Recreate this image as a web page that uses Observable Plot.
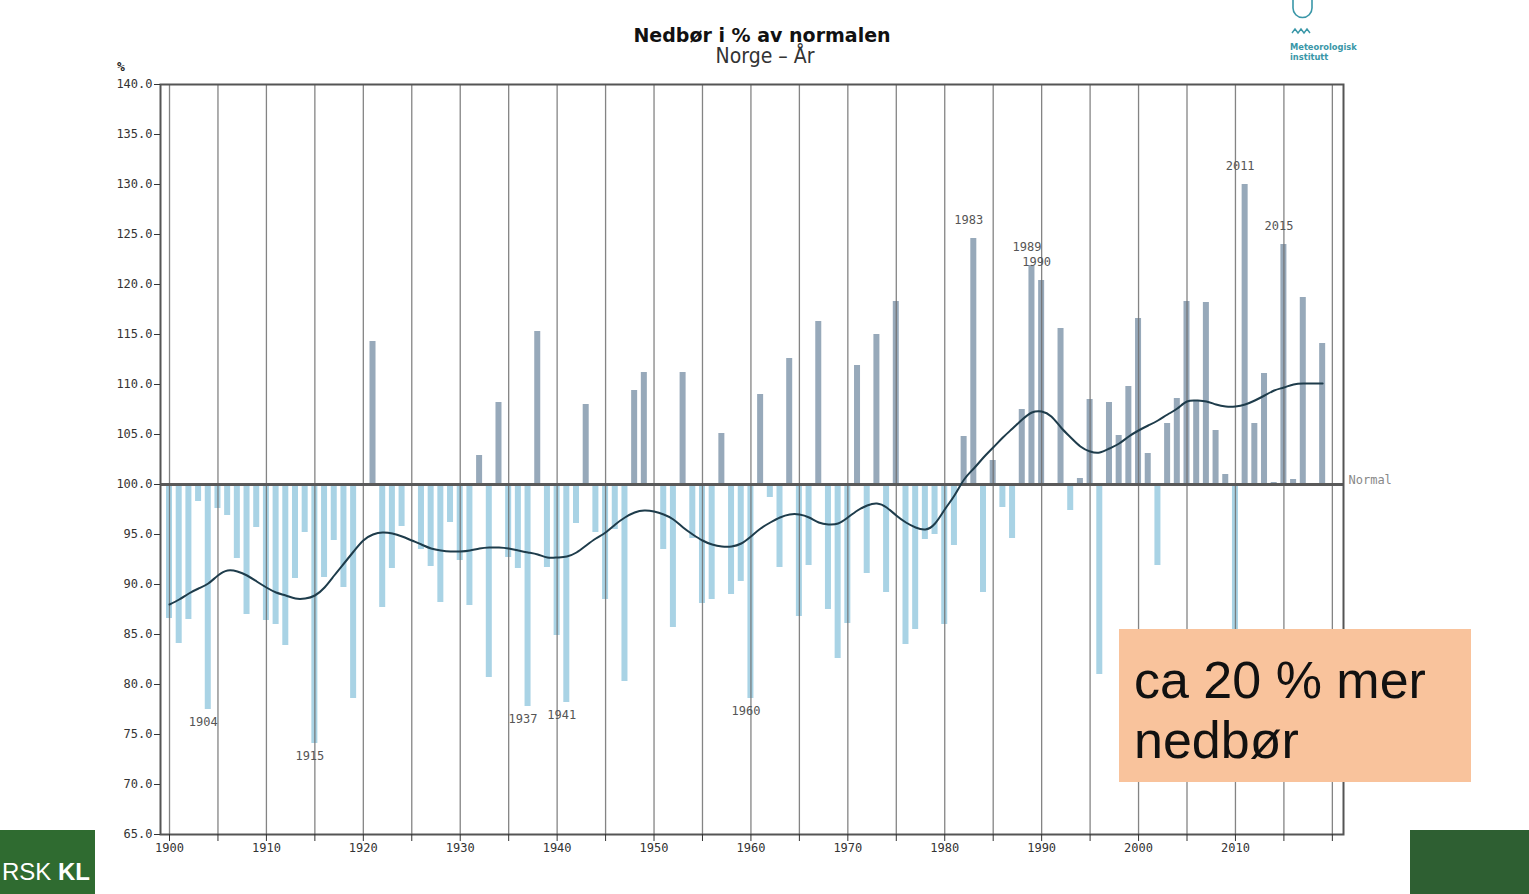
<!DOCTYPE html>
<html>
<head>
<meta charset="utf-8">
<script src="https://cdn.jsdelivr.net/npm/d3@7"></script>
<script src="https://cdn.jsdelivr.net/npm/@observablehq/plot@0.6"></script>
<style>
  html, body { margin: 0; padding: 0; background: #fff; }
  body { width: 1529px; height: 894px; overflow: hidden; position: relative; font-family: "DejaVu Sans", sans-serif; }
  #chart { position: absolute; left: 0; top: 0; }
  #title { position: absolute; left: 562px; top: 25px; width: 400px; text-align: center; font: bold 19px/20px "DejaVu Sans", sans-serif; color: #111; z-index: 2; }
  #subtitle { position: absolute; left: 565px; top: 45px; width: 400px; text-align: center; font: 21px/22px "DejaVu Sans Condensed", "DejaVu Sans", sans-serif; font-stretch: condensed; color: #333; z-index: 2; }
  #pct { position: absolute; left: 117px; top: 60px; font: bold 13px/14px "DejaVu Sans Mono", monospace; color: #222; z-index: 2; }
  #logo { position: absolute; left: 1285px; top: 0px; width: 80px; height: 70px; z-index: 2; }
  #note { position: absolute; left: 1119px; top: 629px; width: 352px; height: 153px; background: #f9c39c; z-index: 3;
          font-family: "Liberation Sans", Arial, sans-serif; font-size: 52px; line-height: 60px; color: #111; box-sizing: border-box; padding: 21px 0 0 15px; }
  #greenL { position: absolute; left: 0; top: 830px; width: 95px; height: 64px; background: #2f6b30; overflow: hidden; z-index: 3; }
  #greenL span { position: absolute; left: 2px; top: 27px; white-space: nowrap; font-family: "Liberation Sans", Arial, sans-serif; font-size: 24px; line-height: 30px; color: #fff; }
  #greenR { position: absolute; left: 1410px; top: 830px; width: 119px; height: 64px; background: #2e5f32; z-index: 3; }
</style>
</head>
<body>
<div id="title">Nedbør i % av normalen</div>
<div id="subtitle">Norge – År</div>
<div id="pct">%</div>
<svg id="logo" viewBox="0 0 80 70">
  <path d="M8 0 L8 8 A9.5 9.5 0 0 0 27 8 L27 0" fill="none" stroke="#3a97a8" stroke-width="1.6"/>
  <path d="M7 33 L10 29 L13 33 L16 29 L19 33 L22 29 L25 33" fill="none" stroke="#3a97a8" stroke-width="1.4"/>
  <text x="5" y="50" font-family="DejaVu Sans" font-size="8.3" font-weight="bold" fill="#3a97a8">Meteorologisk</text>
  <text x="5" y="60" font-family="DejaVu Sans" font-size="8.3" font-weight="bold" fill="#3a97a8">institutt</text>
</svg>
<div id="chart"></div>
<div id="note">ca 20 % mer<br>nedbør</div>
<div id="greenL"><span>RSK <b>KL</b></span></div>
<div id="greenR"></div>
<script>
// Year range of the annual bars
const firstYear = 1900;
const lastYear = 2019;

// Annual precipitation, % of normal (1900 ... 2019)
const precipitation = [
  86.6, 84.1, 86.5, 98.3, 77.5, 97.6, 96.9, 92.6, 87.0, 95.7,   // 1900-1909
  86.4, 86.0, 83.9, 90.6, 95.2, 74.1, 90.7, 94.4, 89.7, 78.6,   // 1910-1919
  99.8, 114.3, 87.7, 91.6, 95.8, 99.8, 93.5, 91.8, 88.2, 96.2,  // 1920-1929
  92.4, 87.9, 102.9, 80.7, 108.2, 92.7, 91.6, 77.8, 115.3, 91.7, // 1930-1939
  84.9, 78.2, 96.1, 108.0, 95.2, 88.5, 95.5, 80.3, 109.4, 111.2, // 1940-1949
  99.8, 93.5, 85.7, 111.2, 94.6, 88.1, 88.5, 105.1, 89.0, 90.3,  // 1950-1959
  78.6, 109.0, 98.7, 91.7, 112.6, 86.8, 91.9, 116.3, 87.5, 82.6, // 1960-1969
  86.1, 111.9, 91.1, 115.0, 89.2, 118.3, 84.0, 85.5, 94.5, 95.0, // 1970-1979
  86.0, 93.9, 104.8, 124.6, 89.2, 102.4, 97.7, 94.6, 107.5, 121.9, // 1980-1989
  120.4, 99.8, 115.6, 97.4, 100.6, 108.5, 81.0, 108.2, 104.9, 109.8, // 1990-1999
  116.6, 103.1, 91.9, 106.1, 108.6, 118.3, 108.4, 118.2, 105.4, 101.0, // 2000-2009
  80.5, 130.0, 106.1, 111.1, 100.2, 124.0, 100.5, 118.7, 99.8, 114.1   // 2010-2019
];

// Smoothed trend curve, % of normal (1900 ... 2019)
const trend = [
  88.0, 88.5, 89.1, 89.6, 90.1, 90.9, 91.4, 91.3, 90.9, 90.3,
  89.7, 89.2, 88.9, 88.6, 88.6, 88.9, 89.7, 90.9, 92.1, 93.3,
  94.4, 95.0, 95.2, 95.1, 94.8, 94.4, 94.0, 93.6, 93.4, 93.3,
  93.3, 93.4, 93.6, 93.7, 93.7, 93.6, 93.4, 93.2, 93.0, 92.7,
  92.7, 92.8, 93.2, 93.9, 94.6, 95.2, 96.0, 96.7, 97.2, 97.4,
  97.3, 97.0, 96.5, 95.7, 95.0, 94.4, 94.0, 93.8, 93.8, 94.1,
  94.8, 95.6, 96.2, 96.7, 97.0, 97.0, 96.7, 96.2, 96.0, 96.1,
  96.7, 97.4, 97.9, 98.1, 97.7, 96.9, 96.2, 95.7, 95.5, 96.1,
  97.5, 98.9, 100.5, 101.6, 102.7, 103.7, 104.7, 105.6, 106.5, 107.2,
  107.3, 106.8, 105.7, 104.7, 103.8, 103.3, 103.2, 103.6, 104.1, 104.8,
  105.4, 105.9, 106.4, 107.0, 107.6, 108.3, 108.4, 108.3, 108.0, 107.8,
  107.8, 108.0, 108.4, 108.9, 109.4, 109.7, 110.0, 110.1, 110.1, 110.1
];

// Annotated extreme years
const dryYears = [1904, 1915, 1937, 1941, 1960];
const wetYears = [1983, 1989, 1990, 2011, 2015];

// Axis ticks
const gridYears = [1900, 1905, 1910, 1915, 1920, 1925, 1930, 1935, 1940, 1945, 1950, 1955, 1960,
                   1965, 1970, 1975, 1980, 1985, 1990, 1995, 2000, 2005, 2010, 2015, 2020];
const labelYears = [1900, 1910, 1920, 1930, 1940, 1950, 1960, 1970, 1980, 1990, 2000, 2010];
const yTicks = [65, 70, 75, 80, 85, 90, 95, 100, 105, 110, 115, 120, 125, 130, 135, 140];
const normalValue = 100;
const normalLabel = "Normal";

const wetColor = "#97a9ba";
const dryColor = "#a9d3e5";

const years = d3.range(firstYear, lastYear + 1);
const data = years.map((year, i) => ({ year, value: precipitation[i], trend: trend[i] }));
const byYear = new Map(data.map(d => [d.year, d.value]));

const chart = Plot.plot({
  width: 1529,
  height: 894,
  marginLeft: 160,
  marginRight: 186,
  marginTop: 84,
  marginBottom: 60,
  style: { background: "transparent", fontFamily: "'DejaVu Sans Mono', monospace", fontSize: "12px", color: "#333" },
  x: { domain: [1899.07, 2021.15], label: null },
  y: { domain: [65, 140], label: null },
  color: { type: "identity" },
  marks: [
    Plot.rectY(data, {
      x1: d => d.year - 0.31,
      x2: d => d.year + 0.31,
      y1: normalValue,
      y2: "value",
      fill: d => d.value >= normalValue ? wetColor : dryColor
    }),
    Plot.ruleX(gridYears, { stroke: "#6f6f6f", strokeWidth: 1.3, strokeOpacity: 0.85 }),
    Plot.ruleY([normalValue], { stroke: "#5a5a5a", strokeWidth: 3 }),
    Plot.lineY(data, { x: "year", y: "trend", curve: "natural", stroke: "#1e3c4b", strokeWidth: 2 }),
    Plot.text(dryYears, { x: d => d, y: d => byYear.get(d), text: d => String(d), dx: -5, dy: 13, fill: "#555", fontSize: 12 }),
    Plot.text(wetYears, { x: d => d, y: d => byYear.get(d), text: d => String(d), dx: -5, dy: -18, fill: "#555", fontSize: 12 }),
    Plot.text([normalValue], { y: d => d, frameAnchor: "right", text: () => normalLabel, textAnchor: "start", dx: 5, dy: -4, fill: "#888", fontSize: 12 }),
    Plot.frame({ stroke: "#555", strokeWidth: 2 }),
    Plot.axisY({ ticks: yTicks, tickFormat: d3.format(".1f"), tickSize: 6, tickPadding: 2, label: null }),
    Plot.axisX({ ticks: gridYears, tickSize: 7, tickFormat: () => "", label: null }),
    Plot.axisX({ ticks: labelYears, tickSize: 0, tickPadding: 9, tickFormat: d => String(d), label: null })
  ]
});
document.getElementById("chart").appendChild(chart);
</script>
</body>
</html>
